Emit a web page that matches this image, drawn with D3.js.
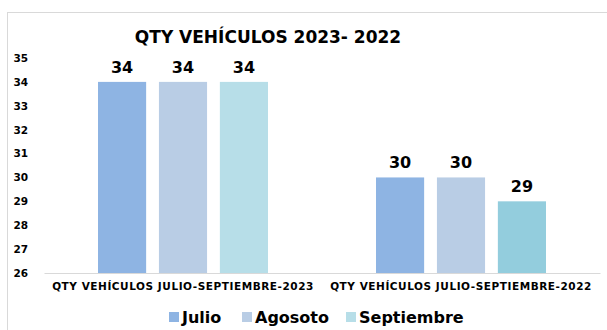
<!DOCTYPE html>
<html>
<head>
<meta charset="utf-8">
<script src="https://cdn.jsdelivr.net/npm/d3@7"></script>
<style>
  html, body { margin: 0; padding: 0; background: #fff; }
  svg { display: block; font-family: "DejaVu Sans", Verdana, sans-serif; }
</style>
</head>
<body>
<svg id="chart" width="607" height="330"></svg>
<script>
// Chart data
const categories = ["QTY VEHÍCULOS JULIO-SEPTIEMBRE-2023", "QTY VEHÍCULOS JULIO-SEPTIEMBRE-2022"];
const seriesNames = ["Julio", "Agosoto", "Septiembre"];
const julio = [34, 30];
const agosoto = [34, 30];
const septiembre = [34, 29];
const yTicks = [26, 27, 28, 29, 30, 31, 32, 33, 34, 35];

const seriesValues = [julio, agosoto, septiembre];
const seriesColors = ["#8EB4E3", "#B9CDE5", "#B7DEE8"];
// individual point colour override (Septiembre, second category)
const pointColors = { "Septiembre|1": "#93CDDD" };

const svg = d3.select("#chart");

// chart frame
svg.append("rect")
  .attr("x", 7.5).attr("y", 12.5)
  .attr("width", 640).attr("height", 360)
  .attr("fill", "#fff").attr("stroke", "#D9D9D9").attr("stroke-width", 1);

// title
svg.append("text")
  .attr("x", 268).attr("y", 43)
  .attr("text-anchor", "middle")
  .attr("font-size", 17).attr("font-weight", "bold")
  .attr("fill", "#000")
  .text("QTY VEHÍCULOS 2023- 2022");

const plot = { left: 44, right: 600, top: 58, bottom: 273 };

const x0 = d3.scaleBand()
  .domain(categories)
  .range([plot.left, plot.right])
  .paddingInner(0).paddingOuter(0);

const x1 = d3.scaleBand()
  .domain(seriesNames)
  .range([54, x0.bandwidth() - 54])
  .paddingInner(0.21).paddingOuter(0);

const y = d3.scaleLinear()
  .domain([26, 35])
  .range([plot.bottom, plot.top]);

// y axis labels
const yAxis = svg.append("g")
  .attr("transform", `translate(${plot.left},0)`)
  .call(d3.axisLeft(y).tickValues(yTicks).tickSize(0).tickPadding(16).tickFormat(d3.format("d")));
yAxis.select(".domain").remove();
yAxis.selectAll("text")
  .attr("font-size", 10.5).attr("font-weight", "bold")
  .attr("font-family", "DejaVu Sans, Verdana, sans-serif")
  .attr("fill", "#000");

// bars
const groups = svg.append("g").selectAll("g")
  .data(categories)
  .join("g")
  .attr("transform", d => `translate(${x0(d)},0)`);

groups.each(function(cat, ci) {
  const g = d3.select(this);
  seriesNames.forEach((name, si) => {
    const v = seriesValues[si][ci];
    const color = pointColors[name + "|" + ci] || seriesColors[si];
    g.append("rect")
      .attr("x", x1(name))
      .attr("y", y(v))
      .attr("width", x1.bandwidth())
      .attr("height", y(26) - y(v))
      .attr("fill", color);
    g.append("text")
      .attr("x", x1(name) + x1.bandwidth() / 2)
      .attr("y", y(v) - 9)
      .attr("text-anchor", "middle")
      .attr("font-size", 16).attr("font-weight", "bold")
      .attr("fill", "#000")
      .text(v);
  });
});

// x axis
const xAxis = svg.append("g")
  .attr("transform", `translate(0,${plot.bottom})`)
  .call(d3.axisBottom(x0).tickSize(0).tickPadding(10));
xAxis.select(".domain").attr("stroke", "#D9D9D9");
xAxis.selectAll("text")
  .attr("font-size", 10.5).attr("font-weight", "bold")
  .attr("letter-spacing", 0.55)
  .attr("font-family", "DejaVu Sans, Verdana, sans-serif")
  .attr("fill", "#000");

// legend
const legendX = [169, 242, 346];
const legend = svg.append("g");
seriesNames.forEach((name, i) => {
  legend.append("rect")
    .attr("x", legendX[i]).attr("y", 312)
    .attr("width", 10).attr("height", 10)
    .attr("fill", seriesColors[i]);
  legend.append("text")
    .attr("x", legendX[i] + 13).attr("y", 323)
    .attr("font-size", 16).attr("font-weight", "bold")
    .attr("fill", "#000")
    .text(name);
});
</script>
</body>
</html>
